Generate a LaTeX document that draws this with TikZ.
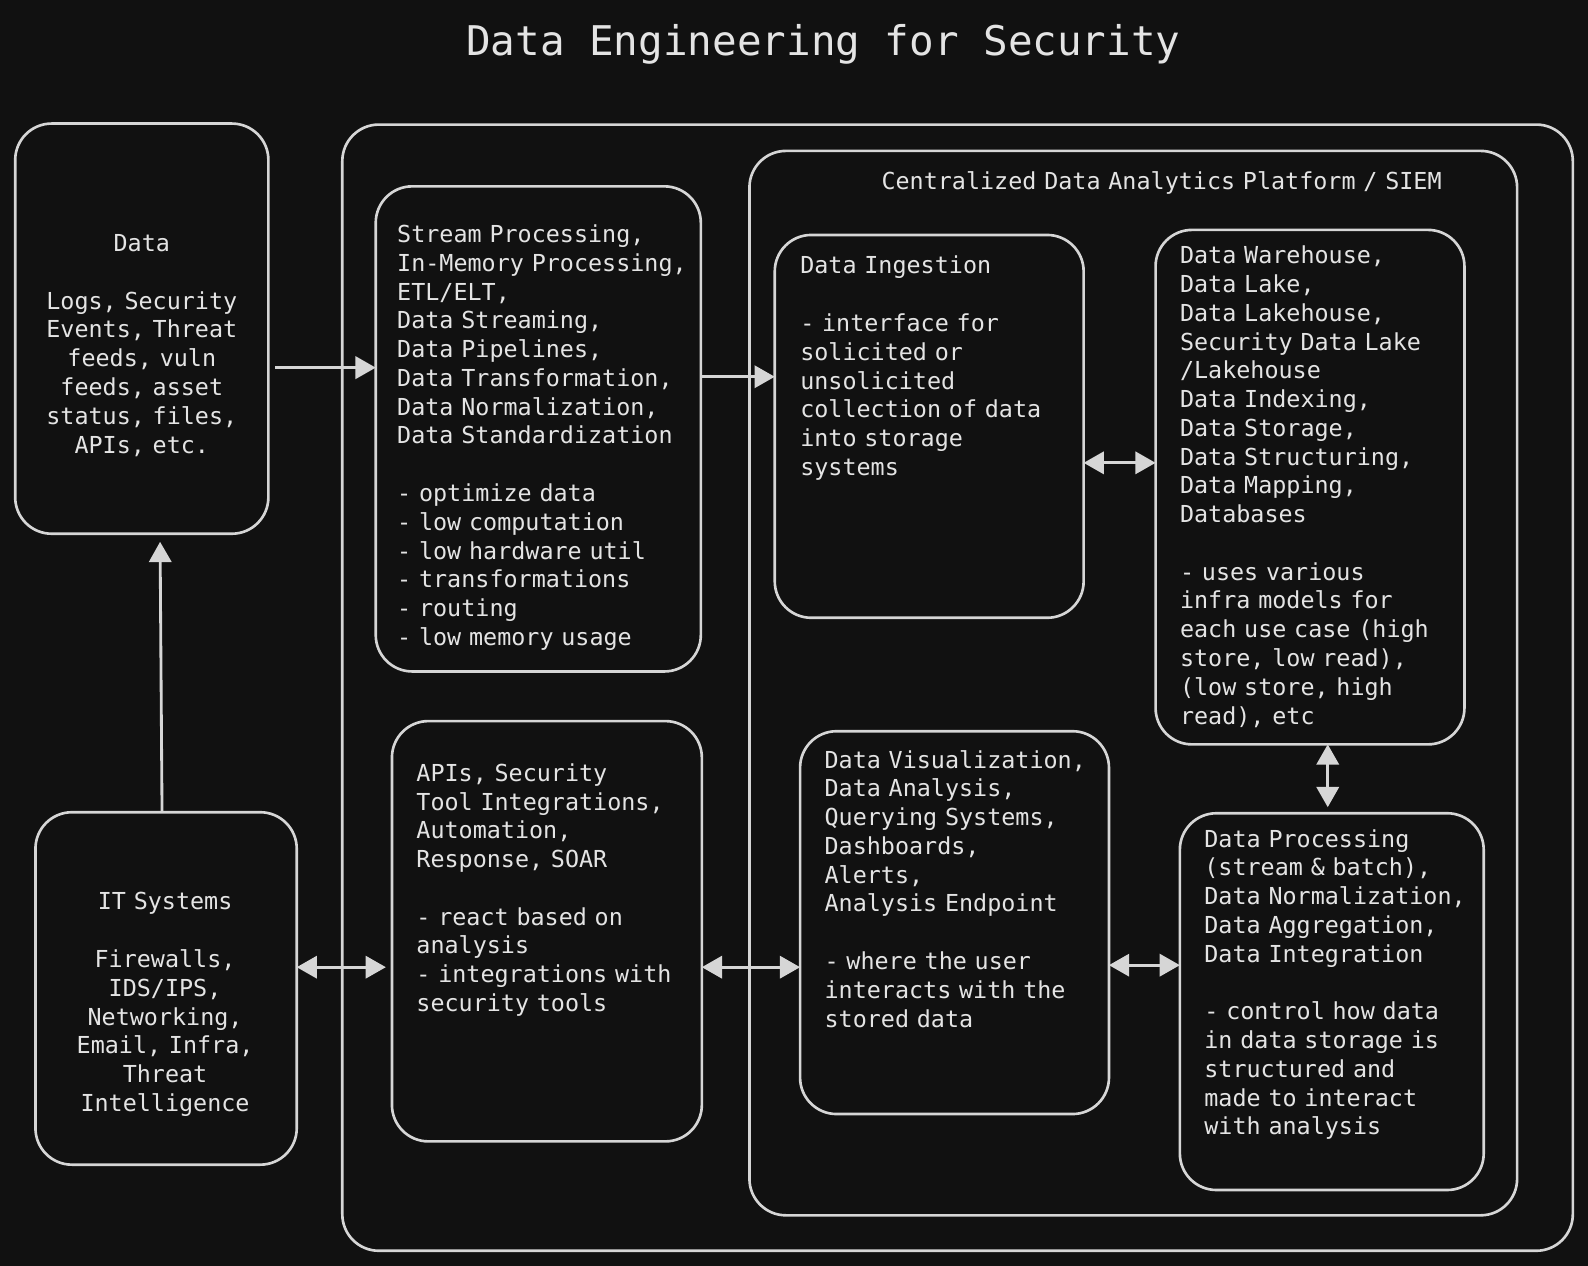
\documentclass[tikz,border=0pt]{standalone}
\usepackage{fontspec}
\newfontfamily\monof{DejaVu Sans Mono}
\usetikzlibrary{arrows.meta}
\definecolor{bgc}{RGB}{17,17,17}
\definecolor{linec}{RGB}{214,214,214}
\definecolor{txtc}{RGB}{228,228,228}
\newcommand\mybodyfont{\monof\fontsize{23.1}{28.4}\selectfont\spaceskip 0.602em\xspaceskip 0.602em\relax}
\newcommand\mytitlefont{\monof\fontsize{40.4}{48}\selectfont\spaceskip 0.602em\xspaceskip 0.602em\relax}
\tikzset{
  box/.style={draw=linec, line width=2.6pt, rounded corners=36pt, rectangle, inner sep=0pt, outer sep=0pt, fill=bgc},
  txt/.style={text=txtc, font=\mybodyfont, inner sep=0pt, text width=420pt, align=left, anchor=base west},
  ctxt/.style={txt, align=center, anchor=base, text width=300pt},
  ttl/.style={text=txtc, font=\mytitlefont, inner sep=0pt, anchor=base},
  arr/.style={draw=linec, line width=2.8pt, -{Triangle[length=20pt,width=22pt]}},
  darr/.style={draw=linec, line width=2.8pt, {Triangle[length=20pt,width=22pt]}-{Triangle[length=20pt,width=22pt]}},
}
\begin{document}
\begin{tikzpicture}[x=1pt,y=-1pt]
\useasboundingbox (0,0) rectangle (1568,1250);
\fill[bgc] (0,0) rectangle (1568,1250);

\node[ttl] (title) at (813,55) {Data Engineering for Security};

% containers
\node[box, minimum width=1215pt, minimum height=1112pt] (outer) at (945.5,679) {};
\node[box, minimum width=758pt, minimum height=1051pt] (siem) at (1119,674.5) {};
\node[txt, anchor=base, text width=620pt, align=center] (siemlbl) at (1147,187.5) {Centralized Data Analytics Platform / SIEM};

% boxes
\node[box, minimum width=250pt, minimum height=405pt] (data) at (140,324.5) {};
\node[box, minimum width=321pt, minimum height=479pt] (stream) at (531.5,423.5) {};
\node[box, minimum width=305pt, minimum height=378pt] (ing) at (917.5,421) {};
\node[box, minimum width=305pt, minimum height=508pt] (wh) at (1293.5,481) {};
\node[box, minimum width=306pt, minimum height=415pt] (api) at (540,919.5) {};
\node[box, minimum width=258pt, minimum height=348pt] (its) at (164,976) {};
\node[box, minimum width=305pt, minimum height=378pt] (vis) at (942.5,911) {};
\node[box, minimum width=300pt, minimum height=372pt] (proc) at (1315,989) {};

% texts
\node[ctxt] (datat) at (140,248.5) {Data\\ \mbox{}\\ Logs, Security\\ Events, Threat\\ feeds, vuln\\ feeds, asset\\ status, files,\\ APIs, etc.};
\node[txt] (streamt) at (392,239.6) {Stream Processing,\\ In-Memory Processing,\\ ETL/ELT,\\ Data Streaming,\\ Data Pipelines,\\ Data Transformation,\\ Data Normalization,\\ Data Standardization\\ \mbox{}\\ - optimize data\\ - low computation\\ - low hardware util\\ - transformations\\ - routing\\ - low memory usage};
\node[txt] (ingt) at (790,270.5) {Data Ingestion\\ \mbox{}\\ - interface for\\ solicited or\\ unsolicited\\ collection of data\\ into storage\\ systems};
\node[txt] (wht) at (1165,260.5) {Data Warehouse,\\ Data Lake,\\ Data Lakehouse,\\ Security Data Lake\\ /Lakehouse\\ Data Indexing,\\ Data Storage,\\ Data Structuring,\\ Data Mapping,\\ Databases\\ \mbox{}\\ - uses various\\ infra models for\\ each use case (high\\ store, low read),\\ (low store, high\\ read), etc};
\node[txt] (apit) at (411,771.5) {APIs, Security\\ Tool Integrations,\\ Automation,\\ Response, SOAR\\ \mbox{}\\ - react based on\\ analysis\\ - integrations with\\ security tools};
\node[ctxt] (itst) at (163,898.5) {IT Systems\\ \mbox{}\\ Firewalls,\\ IDS/IPS,\\ Networking,\\ Email, Infra,\\ Threat\\ Intelligence};
\node[txt] (vist) at (814,758.5) {Data Visualization,\\ Data Analysis,\\ Querying Systems,\\ Dashboards,\\ Alerts,\\ Analysis Endpoint\\ \mbox{}\\ - where the user\\ interacts with the\\ stored data};
\node[txt] (proct) at (1189,836.5) {Data Processing\\ (stream \& batch),\\ Data Normalization,\\ Data Aggregation,\\ Data Integration\\ \mbox{}\\ - control how data\\ in data storage is\\ structured and\\ made to interact\\ with analysis};

% connectors
\draw[arr, shorten <=7pt] (data.east |- 0,363) -- (stream.west |- 0,363);
\draw[arr] (stream.east |- 0,372) -- (ing.west |- 0,372);
\draw[darr] (ing.east |- 0,457) -- (wh.west |- 0,457);
\draw[darr, shorten >=6pt] (wh.south -| 1311,0) -- (proc.north -| 1311,0);
\draw[darr] (vis.east |- 0,953) -- (proc.west |- 0,953);
\draw[darr] (api.east |- 0,955) -- (vis.west |- 0,955);
\draw[darr, shorten >=6pt] (its.east |- 0,955) -- (api.west |- 0,955);
\draw[arr, shorten >=8pt] (its.north -| 160,0) -- (data.south -| 158,0);
\end{tikzpicture}
\end{document}
